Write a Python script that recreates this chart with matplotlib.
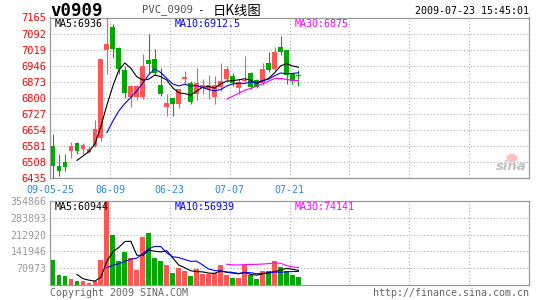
import matplotlib
matplotlib.use('Agg')
import matplotlib.pyplot as plt
import numpy as np
import pandas as pd
from matplotlib.patches import Ellipse

# ---------------- data ----------------
date_labels = ['09-05-25', '06-09', '06-23', '07-07', '07-21', '', '', '']
price_ticks = [6435, 6508, 6581, 6654, 6727, 6800, 6873, 6946, 7019, 7092, 7165]
vol_ticks = [70973, 141946, 212920, 283893, 354866]

opens = [6581, 6491, 6509, 6560, 6595, 6568, 6553, 6582, 6616, 7016,
         7123, 7028, 6927, 6805, 6803, 6803, 6972, 6976, 6858, 6758,
         6800, 6770, 6884, 6868, 6815, 6843, 6838, 6803, 6849, 6884,
         6899, 6843, 6876, 6911, 6881, 6866, 6960, 6929, 7030, 7015,
         6907, 6901]
highs = [6637, 6545, 6542, 6601, 6598, 6592, 6580, 6697, 6976, 7163,
         7134, 7030, 6945, 6860, 6860, 7000, 7092, 7020, 6937, 6815,
         6800, 6840, 6921, 6876, 6934, 6884, 6903, 6899, 6960, 6945,
         6914, 6884, 6990, 6919, 6884, 6957, 7007, 7033, 7081, 7015,
         6907, 6925]
lows = [6437, 6444, 6465, 6525, 6546, 6546, 6547, 6577, 6605, 6910,
        6979, 6910, 6800, 6757, 6790, 6795, 6914, 6905, 6810, 6717,
        6717, 6752, 6861, 6773, 6790, 6815, 6793, 6773, 6830, 6876,
        6853, 6815, 6870, 6838, 6845, 6860, 6916, 6920, 6996, 6862,
        6862, 6855]
closes = [6491, 6465, 6485, 6579, 6557, 6587, 6568, 6658, 6976, 7043,
          7021, 6930, 6820, 6855, 6852, 6945, 6952, 6912, 6818, 6775,
          6770, 6838, 6894, 6782, 6868, 6856, 6856, 6858, 6876, 6933,
          6868, 6872, 6882, 6849, 6850, 6931, 6927, 7008, 7006, 6904,
          6878, 6899]
volumes = [107400, 40300, 36100, 26300, 15200, 15200, 9600, 16600, 107400, 354866,
           212100, 103200, 140900, 112900, 61300, 203800, 220500, 112900, 100400, 86400,
           50100, 71000, 57100, 36100, 68200, 44500, 45900, 51500, 86400, 40300,
           29100, 27700, 86400, 40300, 23500, 57100, 57100, 103200, 75200, 57100,
           40300, 31900]

# ---------------- style ----------------
W, H = 545, 300
RED = '#ff5555'
GREEN = '#00aa00'
GRID = '#aaaaaa'
FRAME = '#999999'
MONO = 'DejaVu Sans Mono'
FS = 7.2

fig = plt.figure(figsize=(W / 100, H / 100), dpi=100)
fig.patch.set_facecolor('white')


def fx(px):
    return px / W


def fy(py):
    return 1 - py / H


ax = fig.add_axes([fx(50), fy(178), 479 / W, 160.5 / H])
axv = fig.add_axes([fx(50), fy(285), 479 / W, 84 / H])

o = np.array(opens, float)
h = np.array(highs, float)
l = np.array(lows, float)
c = np.array(closes, float)
v = np.array(volumes, float)
x = np.arange(len(c)) + 0.5
up = c >= o
colors = [RED if u else GREEN for u in up]

# candles
ax.vlines(x, l, h, colors=colors, linewidth=0.8, zorder=3)
body_h = np.maximum(np.abs(c - o), 4.5)
ax.bar(x, body_h, bottom=np.minimum(o, c), width=0.8, color=colors,
       linewidth=0, zorder=3)

# moving averages
cs = pd.Series(c)
for n, col in [(5, 'black'), (10, '#0000ff'), (30, '#ff00ff')]:
    ax.plot(x, cs.rolling(n).mean(), color=col, linewidth=0.8, zorder=4)

ax.set_xlim(0, 80)
ax.set_ylim(6435, 7165)
ax.set_yticks(price_ticks)
ax.set_yticklabels([str(t) for t in price_ticks], color='red',
                   family=MONO, fontsize=7.5)
ax.set_xticks(range(0, 80, 10))
ax.set_xticklabels(date_labels, color='#2a8ad8', family=MONO, fontsize=FS)
ax.tick_params(axis='y', length=0, pad=2.5)
ax.tick_params(axis='x', length=0, pad=5)

# volume
axv.bar(x, v, width=0.8, color=colors, linewidth=0, zorder=3)
vs = pd.Series(v)
for n, col in [(5, 'black'), (10, '#0000ff'), (30, '#ff00ff')]:
    axv.plot(x, vs.rolling(n).mean(), color=col, linewidth=0.8, zorder=4)
axv.set_xlim(0, 80)
axv.set_ylim(0, 354866)
axv.set_yticks(vol_ticks)
axv.set_yticklabels([str(t) for t in vol_ticks], color='#999999',
                    family=MONO, fontsize=FS)
axv.set_xticks(range(0, 80, 10))
axv.set_xticklabels([])
axv.tick_params(axis='both', length=0, pad=2.5)

for a in (ax, axv):
    a.grid(True, color=GRID, linestyle=(0, (1, 2)), linewidth=0.8, zorder=0)
    a.set_axisbelow(True)
    for s in a.spines.values():
        s.set_color(FRAME)
        s.set_linewidth(0.9)
    a.set_facecolor('white')

# ---------------- texts ----------------
fig.text(fx(50), fy(11.5), 'v0909', family=MONO, weight='bold', fontsize=12.5,
         ha='left', va='center', color='black')
fig.text(fx(142), fy(10), 'PVC_0909', family=MONO, fontsize=7.6,
         ha='left', va='center', color='#555555')
fig.text(fx(197), fy(10.5), '-', family=MONO, fontsize=8,
         ha='left', va='center', color='black')
fig.text(fx(213), fy(11), '日K线图', family=['Noto Sans CJK SC', 'DejaVu Sans'],
         fontsize=9.6, ha='left', va='center', color='black')
fig.text(fx(529), fy(11.5), '2009-07-23 15:45:01', family=MONO, fontsize=FS,
         ha='right', va='center', color='black')

fig.text(fx(55), fy(24), 'MA5:6936', family=MONO, fontsize=FS,
         ha='left', va='center', color='black')
fig.text(fx(175), fy(24), 'MA10:6912.5', family=MONO, fontsize=FS,
         ha='left', va='center', color='#0000ff')
fig.text(fx(295), fy(24), 'MA30:6875', family=MONO, fontsize=FS,
         ha='left', va='center', color='#ff00ff')

fig.text(fx(55), fy(207), 'MA5:60944', family=MONO, fontsize=FS,
         ha='left', va='center', color='black')
fig.text(fx(175), fy(207), 'MA10:56939', family=MONO, fontsize=FS,
         ha='left', va='center', color='#0000ff')
fig.text(fx(295), fy(207), 'MA30:74141', family=MONO, fontsize=FS,
         ha='left', va='center', color='#ff00ff')

fig.text(fx(50), fy(293), 'Copyright 2009 SINA.COM', family=MONO, fontsize=FS,
         ha='left', va='center', color='#666666')
fig.text(fx(529), fy(293), 'http://finance.sina.com.cn', family=MONO,
         fontsize=FS, ha='right', va='center', color='#666666')

# sina watermark
fig.patches.append(Ellipse((fx(512), fy(158)), 10 / W, 7 / H,
                           transform=fig.transFigure, color='#ffc0c0',
                           zorder=5))
fig.text(fx(527), fy(166), 'sina', family='DejaVu Sans', style='italic',
         weight='bold', fontsize=9.5, ha='right', va='center',
         color='#c0c0c0', zorder=6)

fig.savefig('out.png', dpi=100)
